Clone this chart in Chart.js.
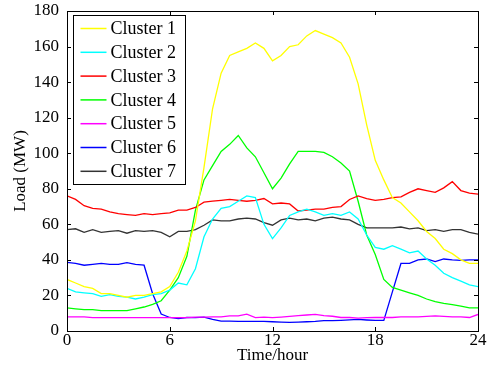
<!DOCTYPE html>
<html>
<head>
<meta charset="utf-8">
<script src="https://cdn.jsdelivr.net/npm/chart.js@4/dist/chart.umd.min.js"></script>
<style>
  html, body { margin: 0; padding: 0; background: #fff; }
  #wrap { width: 494px; height: 374px; }
</style>
</head>
<body>
<div id="wrap"><canvas id="chart-load"></canvas></div>
<script>
// ─── DATA (half-hour samples, 0..24 h) ───────────────────────────────────────
const hours = Array.from({ length: 49 }, (_, i) => i / 2);

const labels = ['Cluster 1', 'Cluster 2', 'Cluster 3', 'Cluster 4', 'Cluster 5', 'Cluster 6', 'Cluster 7'];
const colors = ['#ffff00', '#00ffff', '#ff0000', '#00ff00', '#ff00ff', '#0000ff', '#333333'];

const cluster1 = [29, 27, 25, 24, 21, 21, 20, 19, 20, 20, 21, 22, 25, 33, 45, 62, 92, 125, 145, 155,
    157, 159, 162, 159, 152, 155, 160, 161, 166, 169, 167, 165, 162, 154, 139, 116, 96, 85, 75, 72,
    67, 62, 56, 52, 46, 43.5, 40, 38, 38];
const cluster2 = [24, 22, 21.5, 21, 19.5, 20.5, 19.5, 19, 18, 19, 20.5, 21, 23, 27, 26, 35, 53, 63, 69, 70,
    73, 76, 75, 60, 52, 58, 65, 67, 68.5, 67, 65, 66, 65, 67, 63, 54, 47, 46, 48, 46,
    44, 45, 40.5, 37, 32.5, 30, 28, 26, 25];
const cluster3 = [76, 74, 70.5, 69, 68.5, 67, 66, 65.5, 65, 66, 65.5, 66, 66.5, 68, 68, 69.5, 72.5, 73, 73.5, 74,
    73.5, 73, 73.5, 74.5, 71.5, 72, 71.5, 67.5, 68, 68.5, 68.5, 69.5, 70, 74, 76, 74.5, 73.5, 74, 75, 75.5,
    78, 80, 79, 78, 80.5, 84, 79, 77.5, 77];
const cluster4 = [13, 12.5, 12, 12, 11.5, 11.5, 11.5, 11.5, 12.5, 13.5, 15, 17, 23, 30, 42, 68, 85, 93, 101, 105,
    110, 103, 98, 89, 80, 86, 94, 101, 101, 101, 100.5, 98, 94.5, 90, 73, 54, 43, 29, 24.5, 23,
    21.5, 20, 18, 16.5, 15.5, 14.8, 14, 13, 13];
const cluster5 = [8, 8, 8, 7.5, 7.5, 7.5, 7.5, 7.5, 7.5, 7.5, 7.5, 7.5, 7.5, 7.5, 7.5, 7.8, 7.8, 8, 8, 8.5,
    8.5, 9.5, 7.5, 7.8, 7.5, 7.8, 8.2, 8.6, 9, 9.4, 8.7, 8.3, 7.6, 7.6, 7.2, 7.5, 7.6, 7.6, 7.6, 8,
    8, 8, 8.2, 8.5, 8.2, 8, 8, 7.6, 9.3];
const cluster6 = [38.6, 38, 37, 37.5, 38, 37.5, 37.5, 38.5, 37.5, 37, 21, 9.5, 7.6, 7, 7.6, 7.5, 7.8, 6.5, 5.6, 5.5,
    5.4, 5.4, 5.4, 5.4, 5.2, 5, 4.8, 5, 5.2, 5.4, 5.8, 5.8, 6, 6.3, 6.5, 6.2, 6, 6, 22, 38,
    38, 40, 40.5, 39, 40.5, 40, 39.7, 40, 40];
const cluster7 = [57, 57.5, 55.5, 57, 55.5, 56, 56.5, 55, 56.5, 56, 56.5, 55.5, 53, 56, 56, 57, 59.5, 62.5, 62, 62,
    63, 63.5, 63, 61, 59.5, 62.5, 63.5, 62.5, 63, 62, 63.5, 64, 63, 62.5, 60, 58, 58, 58, 58, 58.5,
    57.5, 58, 56.5, 57, 56, 57, 57, 55.5, 54.5];

const series = [cluster1, cluster2, cluster3, cluster4, cluster5, cluster6, cluster7];

const xTicks = [0, 6, 12, 18, 24];
const FONT = "'Liberation Serif', 'DejaVu Serif', serif";

// ─── PLUGINS: MATLAB style box with inward ticks, legend inside the axes ─────

const boxPlugin = {
    id: 'matlabBox',
    afterDatasetsDraw(chart) {
        const { ctx, chartArea: a, scales } = chart;
        ctx.save();
        ctx.strokeStyle = '#000';
        ctx.lineWidth = 1;
        ctx.strokeRect(Math.round(a.left) + 0.5, Math.round(a.top) + 0.5,
            Math.round(a.right - a.left), Math.round(a.bottom - a.top));
        const len = 4;
        ctx.beginPath();
        scales.x.ticks.forEach(t => {
            const px = Math.round(scales.x.getPixelForValue(t.value)) + 0.5;
            ctx.moveTo(px, a.bottom); ctx.lineTo(px, a.bottom - len);
            ctx.moveTo(px, a.top); ctx.lineTo(px, a.top + len);
        });
        scales.y.ticks.forEach(t => {
            const py = Math.round(scales.y.getPixelForValue(t.value)) + 0.5;
            ctx.moveTo(a.left, py); ctx.lineTo(a.left + len, py);
            ctx.moveTo(a.right, py); ctx.lineTo(a.right - len, py);
        });
        ctx.stroke();
        ctx.restore();
    }
};

const legendPlugin = {
    id: 'insideLegend',
    afterDraw(chart) {
        const { ctx, chartArea: a } = chart;
        const x0 = Math.round(a.left) + 6.5, y0 = Math.round(a.top) + 4.5;
        const w = 112, rowH = 23.8, h = 169;
        ctx.save();
        ctx.fillStyle = '#fff';
        ctx.fillRect(x0, y0, w, h);
        ctx.strokeStyle = '#000';
        ctx.lineWidth = 1;
        ctx.strokeRect(x0, y0, w, h);
        ctx.font = `18px ${FONT}`;
        ctx.textBaseline = 'middle';
        chart.data.datasets.forEach((ds, i) => {
            const cy = y0 + 13 + i * rowH;
            ctx.strokeStyle = ds.borderColor;
            ctx.lineWidth = 1.5;
            ctx.beginPath();
            ctx.moveTo(x0 + 7, cy); ctx.lineTo(x0 + 33, cy);
            ctx.stroke();
            ctx.fillStyle = '#000';
            ctx.fillText(ds.label, x0 + 37, cy + 1);
        });
        ctx.restore();
    }
};

// ─── LINE CHART: Load per cluster ────────────────────────────────────────────

const ctx = document.getElementById('chart-load').getContext('2d');
new Chart(ctx, {
    type: 'line',
    data: {
        datasets: series.map((vals, i) => ({
            label: labels[i],
            data: vals.map((v, j) => ({ x: hours[j], y: v })),
            borderColor: colors[i],
            backgroundColor: colors[i],
            borderWidth: 1.3,
            pointRadius: 0,
            tension: 0,
            fill: false,
        }))
    },
    options: {
        responsive: true,
        maintainAspectRatio: false,
        animation: false,
        events: [],
        layout: { padding: { top: 11, right: 16, left: 0, bottom: 0 } },
        plugins: {
            legend: { display: false },
            tooltip: { enabled: false },
        },
        scales: {
            x: {
                type: 'linear',
                min: 0, max: 24,
                afterBuildTicks: scale => { scale.ticks = xTicks.map(v => ({ value: v })); },
                ticks: { color: '#000', font: { family: FONT, size: 17, lineHeight: 1 }, padding: 1, maxRotation: 0 },
                grid: { display: false, drawTicks: false },
                border: { display: false },
                title: { display: true, text: 'Time/hour', color: '#000', font: { family: FONT, size: 17 }, padding: { top: 0, bottom: 8 } },
                afterFit: scale => { scale.height = 43; },
            },
            y: {
                min: 0, max: 180,
                ticks: { stepSize: 20, color: '#000', font: { family: FONT, size: 17, lineHeight: 1 }, padding: 8 },
                grid: { display: false, drawTicks: false },
                border: { display: false },
                title: { display: true, text: 'Load (MW)', color: '#000', font: { family: FONT, size: 17 }, padding: { top: 10, bottom: 0 } },
                afterFit: scale => {
                    scale.width = 67;
                    scale.paddingTop = 0;
                    scale.paddingBottom = 0;
                },
            }
        }
    },
    plugins: [boxPlugin, legendPlugin]
});
</script>
</body>
</html>
